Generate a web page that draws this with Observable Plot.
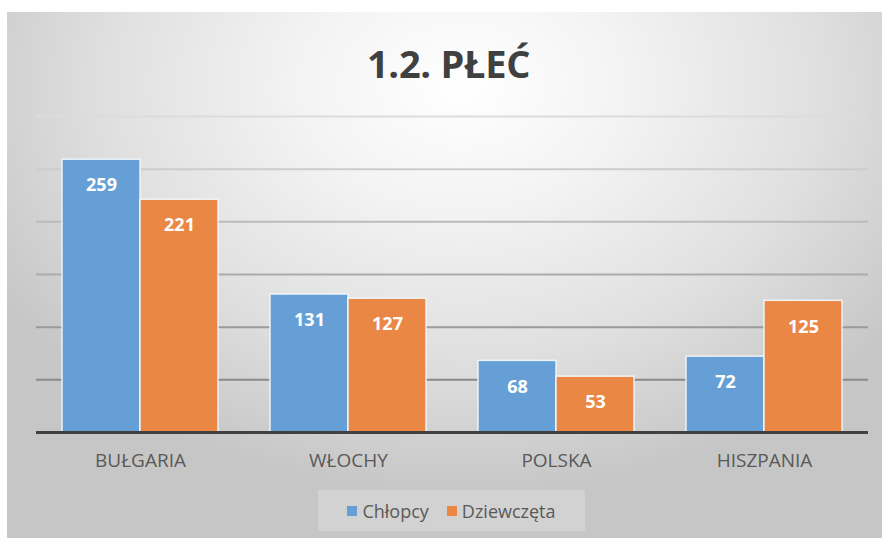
<!DOCTYPE html>
<html>
<head>
<meta charset="utf-8">
<script src="https://cdn.jsdelivr.net/npm/d3@7"></script>
<script src="https://cdn.jsdelivr.net/npm/@observablehq/plot@0.6"></script>
<style>
  html, body { margin: 0; padding: 0; background: #ffffff; }
  #frame {
    position: absolute; left: 7px; top: 12px; width: 875px; height: 526px;
    background: radial-gradient(ellipse 62% 78% at 52% 14%, #ffffff 0%, #f3f3f3 30%, #e0e0e0 65%, #c6c6c6 100%);
    font-family: "Open Sans", sans-serif;
    overflow: hidden;
  }
  #title {
    position: absolute; left: 4px; width: 100%; top: 25px; text-align: center;
    font-size: 38px; font-weight: 700; color: #404040; letter-spacing: -0.3px;
  }
  #chart { position: absolute; left: -2px; top: 88px; }
  #legend {
    position: absolute; left: 311px; top: 478px; width: 267px; height: 41px;
    background: rgba(255,255,255,0.22);
    display: flex; align-items: center; justify-content: center; gap: 18px;
    font-size: 18px; color: #595959;
  }
  .item { display: flex; align-items: center; gap: 5px; }
  .sw { width: 10px; height: 10px; display: inline-block; }
</style>
</head>
<body>
<div id="frame">
  <div id="title">1.2. PŁEĆ</div>
  <div id="chart"></div>
  <div id="legend"></div>
</div>
<script>
const countries = ["BUŁGARIA", "WŁOCHY", "POLSKA", "HISZPANIA"];
const series = ["Chłopcy", "Dziewczęta"];
const chlopcy = [259, 131, 68, 72];
const dziewczeta = [221, 127, 53, 125];
const gridTicks = [50, 100, 150, 200, 250, 300];
const colors = ["#659fd6", "#ea8745"];

const data = [];
countries.forEach((c, i) => {
  data.push({country: c, series: series[0], value: chlopcy[i]});
  data.push({country: c, series: series[1], value: dziewczeta[i]});
});

// grid colour: upper lines fade toward the lighter top of the background
const gridColor = d3.scaleLinear().domain([50, 300]).range(["#8a8a8a", "#dcdcdc"]);

const chart = Plot.plot({
  width: 877,
  height: 382,
  marginLeft: 31,
  marginRight: 14,
  marginTop: 16,
  marginBottom: 50,
  style: {background: "transparent", fontFamily: "Open Sans, sans-serif", color: "#595959"},
  fx: {domain: countries, padding: 0, label: null},
  x: {domain: series, paddingInner: 0, paddingOuter: 0.333, axis: null},
  y: {domain: [0, 300], axis: null},
  color: {domain: series, range: colors},
  marks: [
    ...gridTicks.map(t => Plot.ruleY([t], {stroke: gridColor(t), strokeWidth: 2})),
    Plot.barY(data, {fx: "country", x: "series", y: "value", fill: "series", stroke: "#f4f8fc", strokeWidth: 1.5, strokeOpacity: 0.9}),
    Plot.text(data, {fx: "country", x: "series", y: "value", text: d => String(d.value), dy: 26, fill: "white", fontWeight: "bold", fontSize: 18}),
    Plot.ruleY([0], {stroke: "#404040", strokeWidth: 3}),
    Plot.axisFx({anchor: "bottom", tickSize: 0, tickPadding: 21, fontSize: 19, label: null, fill: "#595959"})
  ]
});
document.getElementById("chart").appendChild(chart);

const legend = document.getElementById("legend");
series.forEach((s, i) => {
  const item = document.createElement("div");
  item.className = "item";
  item.innerHTML = `<span class="sw" style="background:${colors[i]}"></span><span>${s}</span>`;
  legend.appendChild(item);
});
</script>
</body>
</html>
